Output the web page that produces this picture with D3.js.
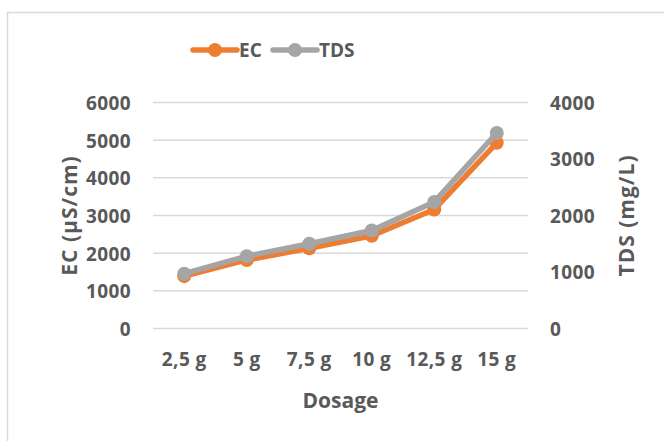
<!DOCTYPE html>
<html>
<head>
<meta charset="utf-8">
<script src="https://cdn.jsdelivr.net/npm/d3@7"></script>
<style>
  body { margin: 0; background: #fff; }
  text { font-family: "Open Sans", "Liberation Sans", sans-serif; font-weight: bold; fill: #595959; }
</style>
</head>
<body>
<script>
// Data.
var dosages   = ["2,5 g", "5 g", "7,5 g", "10 g", "12,5 g", "15 g"];
var ecValues  = [1390, 1820, 2130, 2460, 3160, 4930];
var tdsValues = [970, 1280, 1500, 1735, 2240, 3460];
var ecTicks   = [0, 1000, 2000, 3000, 4000, 5000, 6000];
var tdsTicks  = [0, 1000, 2000, 3000, 4000];

// Plot area (note: "top" is taken by window.top, so prefix names).
var width      = 664,
    height     = 441,
    plotLeft   = 153,
    plotRight  = 528,
    plotTop    = 102.5,
    plotBottom = 328.5;

var orange = "#ED7D31",
    grey   = "#A5A5A5";

var svg = d3.select("body")
    .append("svg")
    .attr("width", width)
    .attr("height", height);

// Chart border (runs off the right and bottom of the picture).
svg.append("rect")
    .attr("x", 7.5).attr("y", 12.5)
    .attr("width", 700).attr("height", 500)
    .attr("fill", "none")
    .attr("stroke", "#D9D9D9")
    .attr("stroke-width", 1.5);

var x    = d3.scaleBand().domain(dosages).range([plotLeft, plotRight]);
var yEC  = d3.scaleLinear().domain([0, 6000]).range([plotBottom, plotTop]);
var yTDS = d3.scaleLinear().domain([0, 4000]).range([plotBottom, plotTop]);

// Gridlines follow the left axis.
svg.append("g")
    .selectAll("line")
    .data(ecTicks)
  .enter()
    .append("line")
    .attr("x1", plotLeft).attr("x2", plotRight)
    .attr("y1", function(d) { return yEC(d); })
    .attr("y2", function(d) { return yEC(d); })
    .attr("stroke", "#D9D9D9")
    .attr("stroke-width", 1.5);

// Axes with lines hidden; only labels kept.
var leftAxis = svg.append("g")
    .attr("transform", "translate(" + (plotLeft - 22) + ",0)")
    .call(d3.axisLeft(yEC).tickValues(ecTicks).tickFormat(d3.format("d")).tickSize(0).tickPadding(0));

var rightAxis = svg.append("g")
    .attr("transform", "translate(" + (plotRight + 22) + ",0)")
    .call(d3.axisRight(yTDS).tickValues(tdsTicks).tickFormat(d3.format("d")).tickSize(0).tickPadding(0));

var bottomAxis = svg.append("g")
    .attr("transform", "translate(0," + (plotBottom + 22) + ")")
    .call(d3.axisBottom(x).tickSize(0).tickPadding(0));

[leftAxis, rightAxis, bottomAxis].forEach(function(a) {
    a.select(".domain").remove();
    a.selectAll("text")
        .attr("fill", "#595959")
        .style("font-family", "'Open Sans', sans-serif")
        .style("font-weight", "bold")
        .style("font-size", "19px")
        .style("letter-spacing", "0.4px");
});
bottomAxis.selectAll("text").attr("dy", "0.82em");
leftAxis.selectAll("text").attr("dy", "0.36em");
rightAxis.selectAll("text").attr("dy", "0.36em");

// Axis titles.
svg.append("text")
    .attr("x", (plotLeft + plotRight) / 2)
    .attr("y", 408)
    .attr("text-anchor", "middle")
    .attr("font-size", "21px")
    .text("Dosage");

svg.append("text")
    .attr("transform", "translate(77," + ((plotTop + plotBottom) / 2) + ") rotate(-90)")
    .attr("text-anchor", "middle")
    .attr("font-size", "21px")
    .attr("letter-spacing", "1px")
    .text("EC (µS/cm)");

svg.append("text")
    .attr("transform", "translate(634," + ((plotTop + plotBottom) / 2) + ") rotate(-90)")
    .attr("text-anchor", "middle")
    .attr("font-size", "21px")
    .attr("letter-spacing", "1px")
    .text("TDS (mg/L)");

function cx(d, i) { return x(dosages[i]) + x.bandwidth() / 2; }

// Draw one series: line and round markers.
function series(values, scale, color) {
    var line = d3.line()
        .x(function(d, i) { return cx(d, i); })
        .y(function(d) { return scale(d); });

    svg.append("path")
        .datum(values)
        .attr("d", line)
        .attr("fill", "none")
        .attr("stroke", color)
        .attr("stroke-width", 5.5)
        .attr("stroke-linejoin", "round");

    svg.append("g")
        .selectAll("circle")
        .data(values)
      .enter()
        .append("circle")
        .attr("cx", cx)
        .attr("cy", function(d) { return scale(d); })
        .attr("r", 7)
        .attr("fill", color);
}

series(ecValues, yEC, orange);
series(tdsValues, yTDS, grey);

// Legend.
var legend = [
    { name: "EC",  color: orange, x: 193 },
    { name: "TDS", color: grey,   x: 273 }
];

var items = svg.selectAll(".legend")
    .data(legend)
  .enter()
    .append("g")
    .attr("transform", function(d) { return "translate(" + d.x + ",50)"; });

items.append("line")
    .attr("x1", 0).attr("x2", 44)
    .attr("stroke", function(d) { return d.color; })
    .attr("stroke-width", 5.5)
    .attr("stroke-linecap", "round");

items.append("circle")
    .attr("cx", 22)
    .attr("r", 7)
    .attr("fill", function(d) { return d.color; });

items.append("text")
    .attr("x", 46)
    .attr("dy", "0.36em")
    .attr("font-size", "19px")
    .text(function(d) { return d.name; });
</script>
</body>
</html>
